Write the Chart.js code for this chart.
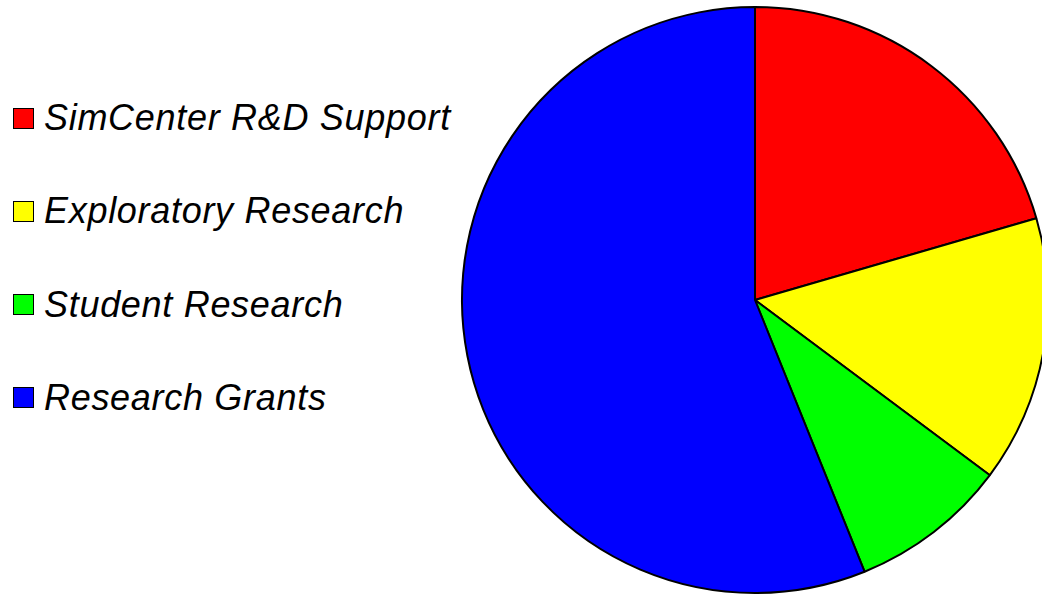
<!DOCTYPE html>
<html>
<head>
<meta charset="utf-8">
<script src="https://cdn.jsdelivr.net/npm/chart.js@4/dist/chart.umd.min.js"></script>
<style>
    html, body { margin: 0; padding: 0; background: #fff; }
    body { width: 1042px; height: 596px; overflow: hidden; position: relative; }
    #pieBox { position: absolute; left: 455px; top: 0; width: 600px; height: 600px; }
    #legend { position: absolute; left: 0; top: 0; font-family: "Liberation Sans", Arial, sans-serif; font-style: italic; font-size: 36px; letter-spacing: 0.7px; color: #000; }
    .item { position: absolute; left: 13px; height: 40px; display: flex; align-items: center; white-space: nowrap; }
    .swatch { width: 21px; height: 21px; box-sizing: border-box; border: 1.5px solid #000; margin-right: 10px; }
</style>
</head>
<body>
<div id="legend"></div>
<div id="pieBox"><canvas id="chartPie"></canvas></div>
<script>
const labels = ['SimCenter R&D Support', 'Exploratory Research', 'Student Research', 'Research Grants'];
const shares = [20.5, 14.7, 8.7, 56.1];
const colors = ['#ff0000', '#ffff00', '#00ff00', '#0000ff'];

// leyenda en HTML
const legend = document.getElementById('legend');
legend.innerHTML = labels.map((name, i) => `
    <div class="item" style="top:${98 + i * 93.3}px">
        <span class="swatch" style="background:${colors[i]}"></span>${name}
    </div>
`).join('');

new Chart(document.getElementById('chartPie'), {
    type: 'pie',
    data: {
        labels: labels,
        datasets: [{
            data: shares,
            backgroundColor: colors,
            borderColor: '#000',
            borderWidth: 2,
            hoverOffset: 0
        }]
    },
    options: {
        responsive: true,
        maintainAspectRatio: false,
        animation: false,
        radius: 293,
        layout: { padding: 0 },
        plugins: {
            legend: { display: false },
            tooltip: { enabled: false }
        }
    }
});
</script>
</body>
</html>
